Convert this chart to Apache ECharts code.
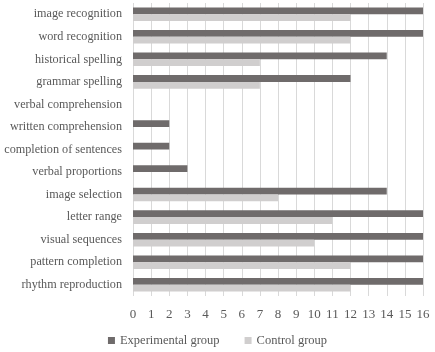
<!DOCTYPE html>
<html>
<head>
<meta charset="utf-8">
<script src="https://cdn.jsdelivr.net/npm/echarts@6/dist/echarts.min.js"></script>
<style>
  html, body {margin: 0; padding: 0; background: #fff;}
  #chart {width: 435px; height: 352px;}
</style>
</head>
<body>
<div id="chart"></div>
<script>
const categories = [
  'image recognition', 'word recognition', 'historical spelling', 'grammar spelling',
  'verbal comprehension', 'written comprehension', 'completion of sentences',
  'verbal proportions', 'image selection', 'letter range', 'visual sequences',
  'pattern completion', 'rhythm reproduction'
];
const experimental = [16, 16, 14, 12, 0, 2, 2, 3, 14, 16, 16, 16, 16];
const control = [12, 12, 7, 7, 0, 0, 0, 0, 8, 11, 10, 12, 12];

const font = "'Liberation Serif', serif";
const chart = echarts.init(document.getElementById('chart'));
chart.setOption({
  animation: false,
  textStyle: {fontFamily: font},
  legend: {
    bottom: 0,
    left: 'center',
    itemWidth: 7,
    itemHeight: 7,
    itemGap: 25,
    textStyle: {color: '#595959', fontSize: 12.5, fontFamily: font},
    data: [
      {name: 'Experimental group', icon: 'rect'},
      {name: 'Control group', icon: 'rect'}
    ]
  },
  grid: {left: 133, right: 12, top: 3, bottom: 56, outerBoundsMode: 'none'},
  xAxis: {
    type: 'value',
    min: 0,
    max: 16,
    interval: 1,
    axisLine: {show: false},
    axisTick: {show: false},
    splitLine: {lineStyle: {color: '#d9d9d9'}},
    axisLabel: {color: '#595959', fontSize: 13, margin: 12, fontFamily: font}
  },
  yAxis: {
    type: 'category',
    inverse: true,
    data: categories,
    axisLine: {show: false},
    axisTick: {show: false},
    axisLabel: {color: '#595959', fontSize: 12.2, margin: 11, fontFamily: font}
  },
  series: [{
    name: 'Experimental group',
    type: 'bar',
    data: experimental,
    barGap: '0%',
    barCategoryGap: '40%',
    itemStyle: {color: '#6f6b6b'}
  }, {
    name: 'Control group',
    type: 'bar',
    data: control,
    itemStyle: {color: '#d0cece'}
  }]
});
</script>
</body>
</html>
